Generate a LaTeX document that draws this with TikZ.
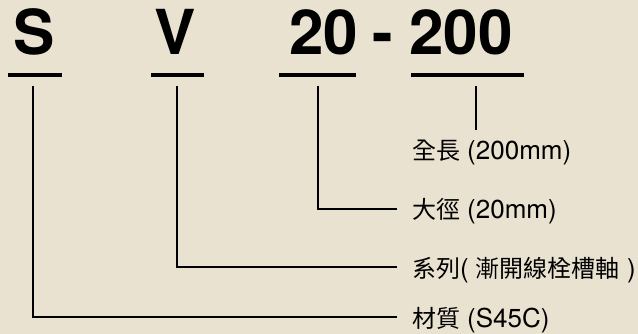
\documentclass[tikz,border=0pt]{standalone}
\usepackage{fontspec}
\setmainfont{TeX Gyre Heros}
\newfontfamily\cjkfont{Noto Sans CJK TC}
\newcommand{\zhtext}[1]{{\cjkfont\fontsize{24}{28}\selectfont #1}}
\definecolor{paper}{HTML}{E9E2D0}

\begin{document}
\begin{tikzpicture}[
      x=1pt, y=-1pt,
      code/.style={anchor=base, inner sep=0pt, font=\fontsize{62}{70}\selectfont\bfseries},
      bar/.style={line width=3.5pt},
      lead/.style={line width=1.2pt},
      desc/.style={anchor=west, inner sep=0pt, outer xsep=15pt, text height=20pt, text depth=0pt, font=\fontsize{26}{30}\selectfont}
    ]
      \fill[paper] (0,0) rectangle (638,334);
      \useasboundingbox (0,0) rectangle (638,334);

      % Part number
      \node[code] (steel) at (34,55) {S};
      \node[code] (series) at (175.5,55) {V};
      \node[code] (dia) at (323.5,55) {20};
      \node[code] (sep) at (383,55) {-};
      \node[code] (len) at (461,55) {200};

      % Underlines
      \draw[bar] (8,75) -- (62,75);
      \draw[bar] (151,75) -- (204,75);
      \draw[bar] (279,75) -- (356,75);
      \draw[bar] (411,75) -- (524,75);

      % Descriptions
      \node[desc] (lenlbl) at (397,150) {\zhtext{全長} (200mm)};
      \node[desc] (dialbl) at (397,209) {\zhtext{大徑} (20mm)};
      \node[desc] (serlbl) at (397,267) {\zhtext{系列}( \zhtext{漸開線栓槽軸} )};
      \node[desc] (matlbl) at (397,317) {\zhtext{材質} (S45C)};

      % Lead lines
      \coordinate (lentop) at (476,86);
      \coordinate (lenend) at (476,130);
      \coordinate (diatop) at (318,86);
      \coordinate (sertop) at (177,86);
      \coordinate (mattop) at (33,86);
      \draw[lead] (lentop) -- (lenend);
      \draw[lead] (diatop) |- (dialbl.west);
      \draw[lead] (sertop) |- (serlbl.west);
      \draw[lead] (mattop) |- (matlbl.west);
    \end{tikzpicture}
\end{document}
